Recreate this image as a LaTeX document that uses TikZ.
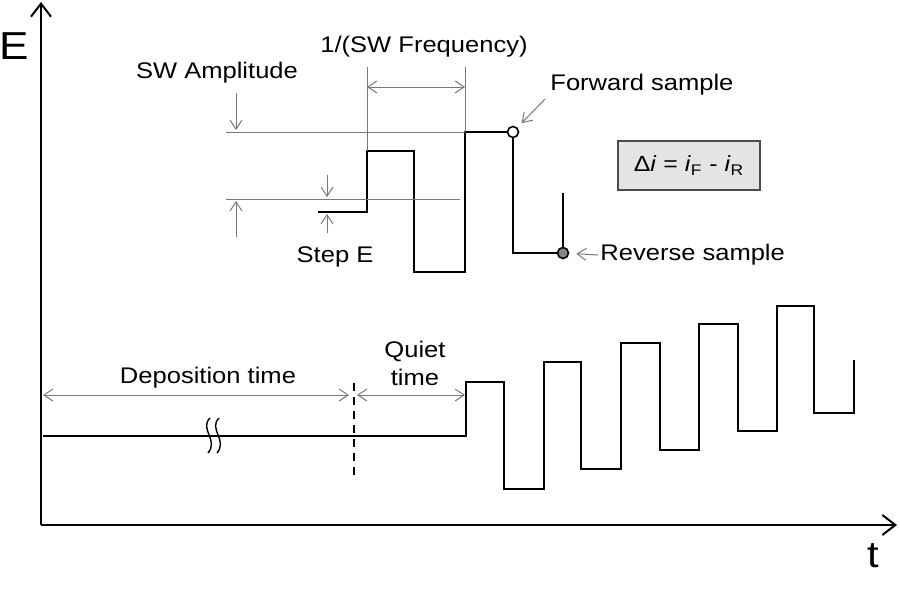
\documentclass[tikz,border=0pt]{standalone}
\usepackage{fontspec}
\setmainfont{Liberation Sans}[FakeStretch=1.13]
\usetikzlibrary{arrows.meta, positioning, calc}
\definecolor{guidegrey}{RGB}{120,120,120}
\definecolor{boxgrey}{RGB}{228,228,228}
\definecolor{revgrey}{RGB}{135,135,135}

\begin{document}
\begin{tikzpicture}[
  x=0.5pt, y=-0.5pt,
  font=\fontsize{11.3}{14}\selectfont,
  axis/.style={line width=1pt, -{Straight Barb[length=6.5pt, width=10pt]}},
  wave/.style={line width=1.2pt, black},
  guide/.style={line width=0.5pt, guidegrey},
  dim/.style={line width=0.5pt, guidegrey,
              {Straight Barb[length=4.5pt, width=6pt]}-{Straight Barb[length=4.5pt, width=6pt]}},
  ptr/.style={line width=0.5pt, guidegrey, -{Straight Barb[length=4.5pt, width=6pt]}},
  fwdpt/.style={circle, draw=black, fill=white, line width=0.8pt,
                minimum size=5.5pt, inner sep=0pt},
  revpt/.style={circle, draw=black, fill=revgrey, line width=0.8pt,
                minimum size=5.5pt, inner sep=0pt},
  eqbox/.style={rectangle, draw=black!70, fill=boxgrey, line width=0.8pt,
                minimum width=71pt, minimum height=24.5pt}
]

\useasboundingbox (0,0) rectangle (900,600);
\fill[white] (0,0) rectangle (900,600);

% ── Axes ──────────────────────────────────────────────────────
\coordinate (orig) at (41,525);
\coordinate (etop) at (41,2);
\coordinate (tend) at (897,525);
\draw[axis] (orig) -- (etop);
\draw[axis] (orig) -- (tend);
\node (elbl) at (14,46) {\fontsize{19.5}{20}\selectfont E};
\node (tlbl) at (873,556) {\fontsize{18.5}{19}\selectfont t};

% ── Deposition + quiet time, then the square wave staircase ──
\draw[wave] (43,436) -- (466,436) -- (466,382) -- (504,382) -- (504,489)
  -- (544,489) -- (544,362) -- (581,362) -- (581,469)
  -- (621,469) -- (621,343) -- (660,343) -- (660,450)
  -- (699,450) -- (699,324) -- (738,324) -- (738,431)
  -- (777,431) -- (777,306) -- (814,306) -- (814,413)
  -- (854,413) -- (854,360);

% break marks on the long deposition line
\draw[line width=0.7pt] (210,418) .. controls (199,429) and (219,440) .. (208,453);
\draw[line width=0.7pt] (219,418) .. controls (208,429) and (228,440) .. (217,453);

% dashed divider between the two periods
\coordinate (divtop) at (354,383);
\coordinate (divbot) at (354,480);
\draw[line width=1pt, dash pattern=on 4pt off 3pt] (divtop) -- (divbot);

\coordinate (depL) at (43,395);
\coordinate (depR) at (349,395);
\coordinate (qtL)  at (357,395);
\coordinate (qtR)  at (465,395);
\draw[dim] (depL) -- (depR);
\draw[dim] (qtL) -- (qtR);
\node (deplbl) at (208,378) {Deposition time};
\node[align=center] (qtlbl) at (415,363) {Quiet\\time};

% ── Inset: one square wave cycle ──────────────────────────────
\node[fwdpt] (fwd) at (513,132) {};
\node[revpt] (rev) at (563,253) {};
\draw[wave] (318,212) -- (367,212) -- (367,151) -- (414,151) -- (414,272)
  -- (465,272) -- (465,132) -- (fwd.west);
\draw[wave] (fwd.south) |- (rev.west);
\draw[wave] (rev.north) -- (563,193);

% guide lines
\draw[guide] (226,132) -- (465,132);
\draw[guide] (226,199) -- (460,199);
\draw[guide] (367,67) -- (367,151);
\draw[guide] (465,67) -- (465,132);

% period
\coordinate (perL) at (367,87);
\coordinate (perR) at (465,87);
\draw[dim] (perL) -- (perR);
\node (perlbl) at (424,47) {1/(SW Frequency)};

% amplitude
\node (amplbl) at (217,73) {SW Amplitude};
\coordinate (ampA) at (236,93);
\coordinate (ampB) at (236,130);
\coordinate (ampC) at (236,237);
\coordinate (ampD) at (236,201);
\draw[ptr] (ampA) -- (ampB);
\draw[ptr] (ampC) -- (ampD);

% step height
\node (steplbl) at (335,257) {Step E};
\coordinate (stpA) at (327,175);
\coordinate (stpB) at (327,197);
\coordinate (stpC) at (327,233);
\coordinate (stpD) at (327,214);
\draw[ptr] (stpA) -- (stpB);
\draw[ptr] (stpC) -- (stpD);

% ── Sample labels and the current box ─────────────────────────
\node[anchor=west, inner sep=1pt] (fwdlbl) at (548,85) {Forward sample};
\node[anchor=west, inner sep=1pt] (revlbl) at (598,255) {Reverse sample};
\coordinate (fwdtail) at (545,99);
\draw[ptr, shorten >=3pt] (fwdtail) -- (fwd);
\draw[ptr, shorten >=3.5pt] (revlbl.west) -- (rev);

\node[eqbox] (eq) at (689,165.5)
  {\fontsize{11}{12}\selectfont Δ\textit{i} = \textit{i}\textsubscript{F} - \textit{i}\textsubscript{R}};

\end{tikzpicture}
\end{document}
